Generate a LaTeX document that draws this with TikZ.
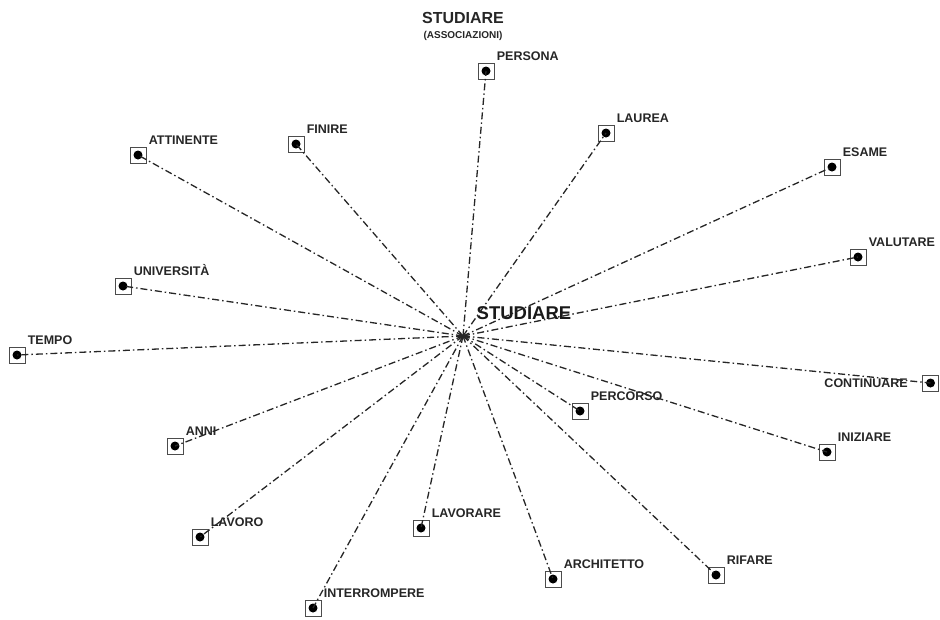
\documentclass[tikz,border=0pt]{standalone}
\usepackage{fontspec}
\setmainfont{Liberation Sans}
\usetikzlibrary{positioning}

\begin{document}
\begin{tikzpicture}[x=1pt, y=-1pt,
    box/.style={draw=black!70, line width=1pt, minimum size=16pt, inner sep=0pt,
      path picture={\fill[black] (path picture bounding box.center) circle (4.5pt);}},
    lbl/.style={font=\fontsize{12.5}{14}\selectfont\bfseries, text=black!85, inner sep=0pt},
    link/.style={draw=black!85, line width=1.3pt, dash pattern=on 7pt off 3pt on 1.5pt off 3pt},
    label distance=3pt]
  \useasboundingbox (0,0) rectangle (940,619);

  % titolo
  \node[font=\fontsize{16}{18}\selectfont\bfseries, text=black!85] (titolo) at (463,18) {STUDIARE};
  \node[font=\fontsize{10}{12}\selectfont\bfseries, text=black!85] (sottotitolo) at (463,36) {(ASSOCIAZIONI)};

  % parola stimolo
  \coordinate (studiare) at (463,336);
  \node[font=\fontsize{18.5}{20}\selectfont\bfseries, text=black!90] (centro) at (524,313) {STUDIARE};

  % associazioni
  \node[box, label={[lbl, anchor=south west]north east:PERSONA}] (persona) at (486,71) {};
  \node[box, label={[lbl, anchor=south west]north east:LAUREA}] (laurea) at (606,133) {};
  \node[box, label={[lbl, anchor=south west]north east:ESAME}] (esame) at (832,167) {};
  \node[box, label={[lbl, anchor=south west]north east:VALUTARE}] (valutare) at (858,257) {};
  \node[box, label={[lbl, label distance=14pt]left:CONTINUARE}] (continuare) at (930.5,383) {};
  \node[box, label={[lbl, anchor=south west]north east:INIZIARE}] (iniziare) at (827,452) {};
  \node[box, label={[lbl, anchor=south west]north east:RIFARE}] (rifare) at (716,575) {};
  \node[box, label={[lbl, anchor=south west]north east:ARCHITETTO}] (architetto) at (553,579) {};
  \node[box, label={[lbl, anchor=south west]north east:LAVORARE}] (lavorare) at (421,528) {};
  \node[box, label={[lbl, anchor=south west]north east:PERCORSO}] (percorso) at (580,411) {};
  \node[box, label={[lbl, anchor=south west]north east:INTERROMPERE}] (interrompere) at (313,608) {};
  \node[box, label={[lbl, anchor=south west]north east:LAVORO}] (lavoro) at (200,537) {};
  \node[box, label={[lbl, anchor=south west]north east:ANNI}] (anni) at (175,446) {};
  \node[box, label={[lbl, anchor=south west]north east:TEMPO}] (tempo) at (17,355) {};
  \node[box, label={[lbl, anchor=south west]north east:UNIVERSITÀ}] (universita) at (123,286) {};
  \node[box, label={[lbl, anchor=south west]north east:ATTINENTE}] (attinente) at (138,155) {};
  \node[box, label={[lbl, anchor=south west]north east:FINIRE}] (finire) at (296,144) {};

  \foreach \n in {persona, laurea, esame, valutare, continuare, iniziare, rifare,
      architetto, lavorare, percorso, interrompere, lavoro, anni, tempo,
      universita, attinente, finire}
    \draw[link] (studiare) -- (\n.center);
\end{tikzpicture}
\end{document}
